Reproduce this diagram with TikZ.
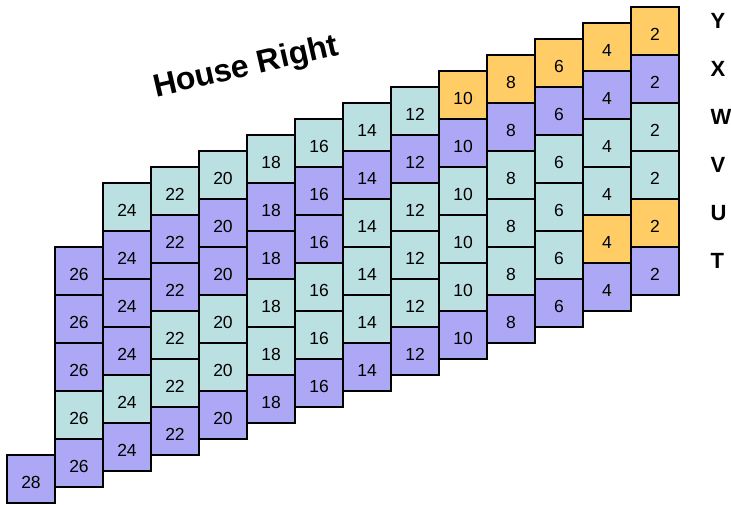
\documentclass[tikz,border=0pt]{standalone}
\usepackage{fontspec}
\setmainfont{Liberation Sans}
\usepackage{xcolor}
\usepackage{tikz}
\usetikzlibrary{positioning}
\definecolor{roxo}{RGB}{172,168,245}
\definecolor{verde}{RGB}{187,224,225}
\definecolor{laranja}{RGB}{255,204,102}
\tikzset{
    casa/.style={
        rectangle,
        draw,
        line width=1.8pt,
        minimum size=48pt,
        inner sep=0pt,
        text height=19.5pt,
        text depth=0pt,
        font=\fontsize{17.5}{18}\selectfont
    },
    casa-r/.style={casa, fill=roxo},
    casa-v/.style={casa, fill=verde},
    casa-l/.style={casa, fill=laranja},
    rotulo/.style={anchor=west, font=\bfseries\fontsize{22}{22}\selectfont},
    titulo/.style={rotate=13, font=\bfseries\fontsize{32}{32}\selectfont}
}

\begin{document}
\begin{tikzpicture}[x=1pt, y=1pt]
    \useasboundingbox (0,0) rectangle (731,504);

    % colunas, de cima para baixo
    \foreach \num/\ini/\cores [count=\i from 0] in {
        2/0/{l,r,v,v,l,r},
        4/0/{l,r,v,v,l,r},
        6/0/{l,r,v,v,v,r},
        8/0/{l,r,v,v,v,r},
        10/0/{l,r,v,v,v,r},
        12/0/{v,r,v,v,v,r},
        14/0/{v,r,v,v,v,r},
        16/0/{v,r,r,v,v,r},
        18/0/{v,r,r,v,v,r},
        20/0/{v,r,r,v,v,r},
        22/0/{v,r,r,v,v,r},
        24/0/{v,r,r,r,v,r},
        26/1/{r,r,r,v,r},
        28/5/{r}}
    {
        \foreach \c [count=\j from \ini] in \cores
            \node[casa-\c] (c\num-\j) at (655-48*\i, 473-16*\i-48*\j) {\num};
    }

    \foreach \l [count=\k from 0] in {Y,X,W,V,U,T}
        \node[rotulo] (linha\l) at (707,483-48*\k) {\l};

    \node[titulo] (titulo) at (246,436) {House Right};

\end{tikzpicture}
\end{document}
